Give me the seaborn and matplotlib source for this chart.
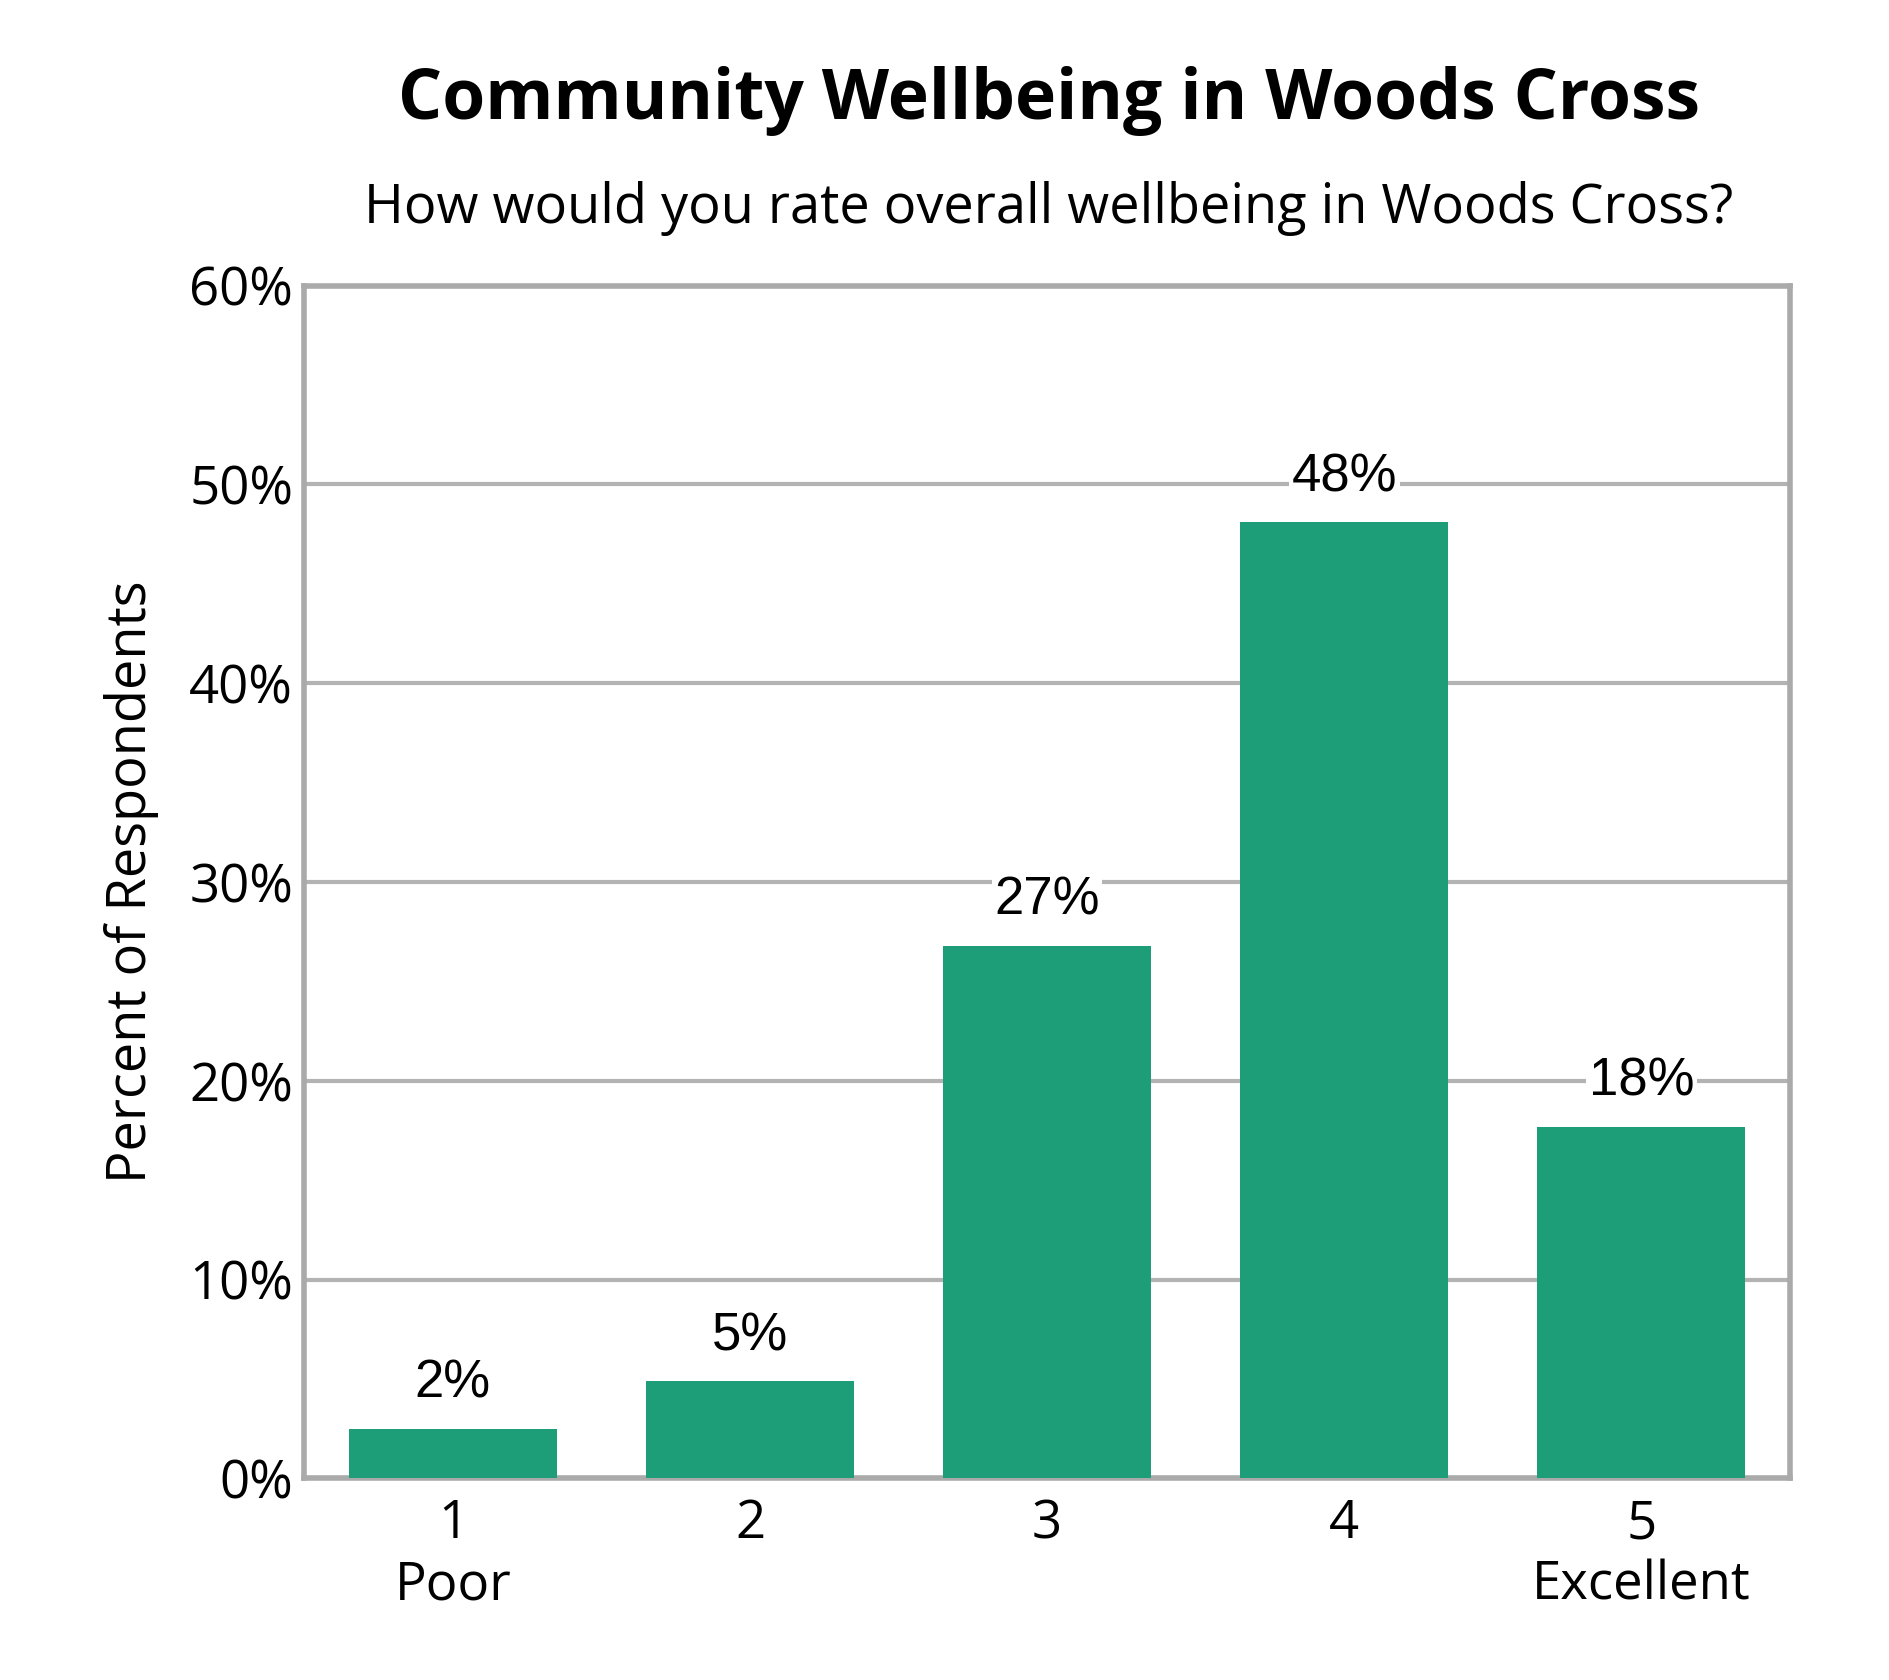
import matplotlib
matplotlib.use("Agg")
import matplotlib.pyplot as plt
import seaborn as sns
import pandas as pd

# chart data
ratings = ["1\nPoor", "2", "3", "4", "5\nExcellent"]
percents = [2.5, 4.9, 26.8, 48.1, 17.7]
value_labels = ["2%", "5%", "27%", "48%", "18%"]
y_ticks = [0, 10, 20, 30, 40, 50, 60]

sns.set_theme(style="white")
plt.rcParams["font.family"] = ["Open Sans", "DejaVu Sans"]
plt.rcParams["text.color"] = "black"
plt.rcParams["xtick.color"] = "black"
plt.rcParams["ytick.color"] = "black"
plt.rcParams["axes.labelcolor"] = "black"

df = pd.DataFrame({"rating": ratings, "pct": percents})

fig = plt.figure(figsize=(18.9, 16.8), dpi=100)
ax = fig.add_axes([0.161, 0.12, 0.786, 0.71])
sns.barplot(data=df, x="rating", y="pct", color="#1e9e78", saturation=1,
            width=0.7, linewidth=0, ax=ax, zorder=3)

ax.set_ylim(0, 60)
ax.set_yticks(y_ticks)
ax.set_yticklabels([f"{t}%" for t in y_ticks], fontsize=38)
ax.tick_params(axis="x", labelsize=38, length=0, pad=14)
ax.tick_params(axis="y", length=0, pad=8)
ax.yaxis.grid(True, color="#b3b3b3", linewidth=3, zorder=0)
for s in ax.spines.values():
    s.set_color("#aaaaaa")
    s.set_linewidth(4)
ax.set_xlabel("")
ax.set_ylabel("Percent of Respondents", fontsize=39, labelpad=22)

for i, (v, lab) in enumerate(zip(percents, value_labels)):
    ax.text(i, v + 1.0, lab, ha="center", va="bottom", fontsize=38,
            family=["Liberation Sans", "DejaVu Sans"], zorder=4,
            bbox=dict(facecolor="white", edgecolor="none", pad=2))

fig.text(0.555, 0.94, "Community Wellbeing in Woods Cross", ha="center",
         va="center", fontsize=50, fontweight="bold")
fig.text(0.555, 0.876, "How would you rate overall wellbeing in Woods Cross?",
         ha="center", va="center", fontsize=39)

fig.savefig("out.png", dpi=100, facecolor="white")
